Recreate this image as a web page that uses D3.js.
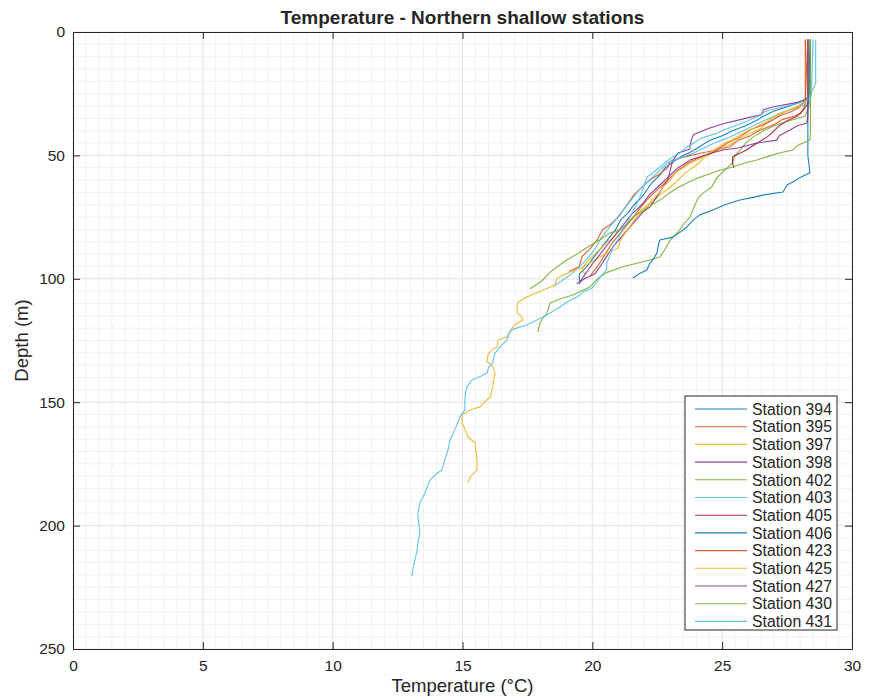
<!DOCTYPE html>
<html>
<head>
<meta charset="utf-8">
<script src="https://cdn.jsdelivr.net/npm/d3@7"></script>
<style>
  body { margin: 0; background: #fff; }
  svg text { font-family: "Liberation Sans", Arial, Helvetica, sans-serif; fill: #262626; }
</style>
</head>
<body>
<svg id="chart" width="869" height="700"></svg>
<script>
// CTD temperature profiles, each point is [depth (m), temperature (°C)]
const stationNames = ["Station 394", "Station 395", "Station 397", "Station 398", "Station 402",
  "Station 403", "Station 405", "Station 406", "Station 423", "Station 425", "Station 427",
  "Station 430", "Station 431"];

const st394 = [[3,28.4],[18,28.4],[26,28.35],[28,28.1],[30,27.6],[32,27.0],[34,26.6],[36,26.3],[38,25.9],[40,25.4],[42,25.0],[44,24.5],[46,24.2],[48,23.9],[50,23.5],[52,23.2],[55,22.8],[58,22.6],[61,22.3],[64,22.1],[67,21.9],[70,21.6],[73,21.4],[76,21.1],[80,20.9],[84,20.6],[88,20.3],[92,20.0],[95,19.8],[98,19.5],[101,19.5]];
const st395 = [[3,28.2],[15,28.25],[28,28.2],[31,28.15],[33,28.0],[34,27.8],[35.5,27.3],[37,27.1],[38,26.9],[40,26.4],[42,26.1],[44,25.6],[46.5,25.3],[48,24.7],[49,24.2],[50,23.8],[51,23.4],[52.5,23.0],[55,22.9],[57.5,22.6],[60,22.2],[61,22.1],[64,21.8],[66,21.6],[69,21.4],[72,21.2],[75,21.0],[78,20.7],[80,20.4],[84,20.2],[88,19.9],[91,19.6],[95,19.5],[97,19.1]];
const st397 = [[3,28.3],[16,28.3],[27,28.3],[29,28.1],[31,27.7],[33,27.3],[35,27.0],[37,26.7],[39,26.5],[41,26.1],[43,25.7],[45,25.4],[47,25.0],[49,24.6],[51,24.3],[54,24.0],[57,23.6],[60,23.3],[63,23.0],[66,22.6],[69,22.3],[72,21.9],[75,21.6],[78,21.3],[81,21.0],[84,20.7],[87,20.4],[90,20.1],[93,19.8],[96,19.6],[98,19.7]];
const st398 = [[3,28.3],[12,28.3],[20,28.35],[27,28.3],[28.5,27.9],[30.5,26.9],[31.5,26.6],[33.5,26.5],[35,25.9],[37,25.1],[39,24.5],[41.5,23.9],[44,23.8],[47.5,23.75],[49,23.3],[52,23.1],[56,23.0],[60,22.9],[63,22.7],[65,22.6],[68,22.4],[71,22.2],[73,21.95],[76,21.7],[79,21.45],[82,21.2],[84,21.05],[87,20.8],[91,20.55],[95,20.3],[98,20.1],[100,19.7],[102,19.4]];
const st402 = [[3,28.35],[18,28.35],[30,28.35],[34,28.2],[36,27.6],[38,27.0],[40,26.6],[42.5,26.2],[45,25.9],[47.8,25.7],[50,25.5],[53,25.4],[56,25.1],[59,24.8],[62.8,24.6],[65,24.3],[66.9,24.1],[70,23.95],[75,23.76],[78,23.5],[80.2,23.37],[84.3,23.0],[88,22.8],[91.2,22.6],[93,22.0],[95,21.2],[97.6,20.52],[100,20.2],[103.3,19.91],[106.6,19.25],[108,18.8],[109.8,18.37],[113.9,18.25],[116,18.1],[117.9,17.98],[121.6,17.9]];
const st403 = [[3,28.5],[20,28.45],[28,28.4],[30,28.1],[31.5,27.6],[33,27.2],[35,26.8],[37,26.4],[39,26.0],[41,25.6],[43,25.2],[45,24.7],[47,24.3],[49,23.9],[51,23.4],[53,22.9],[55,22.7],[58,22.4],[61,22.1],[64,21.8],[68,21.5],[72,21.2],[76,20.9],[80,20.6],[84,20.3],[88,20.1],[92,19.8],[95,19.5],[98,19.2],[101,18.8],[103,18.5]];
const st405 = [[3,28.3],[16,28.3],[29,28.3],[32,28.1],[34,27.9],[36,27.5],[38,27.2],[40,27.0],[42,26.8],[44,26.5],[46,26.2],[48,25.9],[50,25.5],[50.6,25.4],[53,25.4],[55,25.45]];
const st406 = [[3,28.4],[15,28.35],[30,28.3],[40,28.3],[50,28.3],[57,28.38],[59,28.0],[60.8,27.72],[62,27.5],[64.8,27.34],[66,26.6],[67,26.2],[68.1,25.68],[70,25.1],[72.1,24.64],[74.1,24.14],[76,23.9],[79,23.64],[81,23.4],[83.1,23.1],[84.3,22.6],[86,22.55],[89.5,22.49],[92,22.35],[94,22.2],[96.4,22.1],[98,21.8],[99.7,21.56]];
const st423 = [[3,28.2],[14,28.2],[27,28.2],[29,28.1],[31,27.9],[32.5,27.6],[34,27.2],[36,26.9],[38,26.5],[39.5,26.1],[41,25.9],[43,25.6],[45,25.2],[47,24.9],[49,24.6],[51,24.1],[53,23.7],[56,23.3],[60,22.9],[64,22.5],[68,22.1],[72,21.8],[76,21.5],[80,21.2],[85,20.8],[90,20.5],[95,20.2],[99,19.9]];
const st425 = [[3,28.3],[14,28.3],[26,28.3],[28,28.25],[30,28.0],[31.5,27.6],[33,27.2],[35,26.9],[37,26.6],[39,26.2],[41,25.8],[43,25.5],[45,25.1],[47,24.8],[49,24.5],[51,24.2],[53,23.8],[55,23.5],[57,23.2],[60,23.0],[63,22.7],[65,22.6],[68,22.3],[72,22.0],[75,21.7],[78,21.5],[81,21.3],[84,21.1],[87.5,20.99],[90,20.5],[93,20.0],[95.2,19.64],[97,19.2],[99.7,18.64],[102.5,18.56],[105,18.0],[107.4,17.48],[109.4,17.14],[111,17.1],[113.9,17.1],[115,17.25],[116.7,17.33],[118,17.1],[119.5,16.94],[121,16.85],[123.6,16.71],[124.8,16.37],[127.6,16.33],[129,16.1],[130.9,15.98],[133.7,15.94],[134.9,16.13],[136.5,16.2],[138.2,16.25],[141,16.2],[143.8,16.17],[147.9,16.06],[150,15.85],[151.9,15.67],[153.2,15.29],[155.2,14.98],[158.4,14.98],[161,15.1],[164.1,15.21],[166.5,15.48],[170,15.52],[173.4,15.56],[177.5,15.56],[180.3,15.29],[182.7,15.21]];
const st427 = [[3,28.3],[18,28.3],[30,28.3],[34,28.3],[36.9,28.26],[38,27.9],[39.7,27.61],[42,27.2],[43.8,27.1],[45,26.34],[47,25.6],[47.8,25.03],[49,24.6],[51.9,23.76],[55,23.3],[58,23.0],[62,22.6],[66,22.2],[70,21.9],[74,21.5],[78,21.2],[82,20.9],[86,20.6],[90,20.3],[94,20.0],[97,19.8],[100,19.6],[102,19.5]];
const st430 = [[3,28.4],[20,28.4],[35,28.4],[40,28.4],[43.8,28.38],[46,27.9],[47.8,27.72],[49,27.2],[50.6,26.72],[52,26.3],[53,25.9],[54.7,25.41],[56,24.9],[57.5,24.5],[59,24.1],[61.2,23.64],[63,23.3],[65,23.0],[68.1,22.6],[70,22.3],[72,22.0],[75,21.56],[77,21.4],[80.2,21.06],[81.4,20.68],[84.3,20.29],[86,20.0],[88.3,19.64],[90,19.4],[92.4,19.02],[94,18.8],[96.4,18.48],[98,18.3],[100.5,18.1],[102,17.9],[104,17.6]];
const st431 = [[3,28.6],[12,28.6],[21,28.6],[24,28.45],[27,28.4],[29,27.9],[30.5,27.3],[32,26.7],[34,26.4],[36,26.0],[38,25.5],[40,25.0],[41,24.8],[43,24.2],[45,23.9],[46.6,23.64],[49,23.37],[50.6,23.1],[53,22.8],[54.7,22.6],[56,22.45],[58.8,22.1],[62,22.0],[66.9,21.83],[70,21.7],[74,21.5],[77.4,21.33],[81,21.1],[84,21.0],[87.1,20.79],[90,20.7],[93.6,20.56],[96.4,20.55],[99.3,20.3],[101,20.2],[103.7,20.0],[105,19.7],[107.4,19.41],[109,19.1],[111.4,18.75],[113,18.5],[114.7,18.25],[116,18.0],[117.5,17.71],[119,17.4],[119.5,17.21],[120.7,16.9],[122,16.8],[124.8,16.71],[126,16.6],[127.6,16.44],[130.1,16.25],[132,16.2],[134.1,16.17],[136,16.0],[138.2,15.94],[139.5,15.7],[141,15.36],[143.8,15.17],[146,15.12],[149.1,15.09],[153.2,15.09],[155,14.95],[156.5,14.88],[160,14.75],[165.3,14.52],[169,14.45],[173.4,14.32],[177.5,14.2],[179,14.0],[181.5,13.75],[184,13.65],[187,13.55],[190.8,13.36],[194.9,13.28],[198,13.3],[203,13.36],[206,13.3],[210,13.25],[213.9,13.17],[217,13.1],[220.5,13.05]];

const profiles = [st394, st395, st397, st398, st402, st403, st405, st406, st423, st425, st427, st430, st431];

const xTicks = [0, 5, 10, 15, 20, 25, 30];
const yTicks = [0, 50, 100, 150, 200, 250];

// MATLAB-style line colour order
const lineColors = ["#0072BD", "#D95319", "#EDB120", "#7E2F8E", "#77AC30", "#4DBEEE", "#A2142F"];

const svg = d3.select("#chart");
const plotL = 73, plotR = 852, plotT = 32, plotB = 649;

const x = d3.scaleLinear().domain([0, 30]).range([plotL, plotR]);
const y = d3.scaleLinear().domain([0, 250]).range([plotT, plotB]);

// grid: faint minor lines, slightly stronger at the major ticks
const grid = svg.append("g");
grid.selectAll(".vminor").data(d3.range(0.5, 30, 0.5)).join("line")
  .attr("x1", d => x(d)).attr("x2", d => x(d)).attr("y1", plotT).attr("y2", plotB)
  .attr("stroke", "#f1f1f1").attr("stroke-width", 1);
grid.selectAll(".hminor").data(d3.range(5, 250, 5)).join("line")
  .attr("y1", d => y(d)).attr("y2", d => y(d)).attr("x1", plotL).attr("x2", plotR)
  .attr("stroke", "#f1f1f1").attr("stroke-width", 1);
grid.selectAll(".vmajor").data(xTicks).join("line")
  .attr("x1", d => x(d)).attr("x2", d => x(d)).attr("y1", plotT).attr("y2", plotB)
  .attr("stroke", "#e6e6e6").attr("stroke-width", 1);
grid.selectAll(".hmajor").data(yTicks).join("line")
  .attr("y1", d => y(d)).attr("y2", d => y(d)).attr("x1", plotL).attr("x2", plotR)
  .attr("stroke", "#e6e6e6").attr("stroke-width", 1);

// profiles
const line = d3.line().x(d => x(d[1])).y(d => y(d[0]));
svg.append("g").selectAll("path").data(profiles).join("path")
  .attr("d", line)
  .attr("fill", "none")
  .attr("stroke", (d, i) => lineColors[i % lineColors.length])
  .attr("stroke-opacity", 0.9)
  .attr("stroke-width", 1.1)
  .attr("stroke-linejoin", "round");

// axes (ticks point inward, box on all four sides)
const tickLen = 7;
const styleAxis = g => {
  g.selectAll("path").attr("stroke", "#262626");
  g.selectAll("line").attr("stroke", "#262626");
  g.selectAll("text").style("font-size", "15.5px").attr("fill", "#262626");
};
svg.append("g").attr("transform", `translate(0,${plotB})`)
  .call(d3.axisBottom(x).tickValues(xTicks).tickSizeInner(-tickLen).tickSizeOuter(0).tickPadding(11))
  .call(styleAxis);
svg.append("g").attr("transform", `translate(0,${plotT})`)
  .call(d3.axisTop(x).tickValues(xTicks).tickSizeInner(-tickLen).tickSizeOuter(0).tickFormat(""))
  .call(styleAxis);
svg.append("g").attr("transform", `translate(${plotL},0)`)
  .call(d3.axisLeft(y).tickValues(yTicks).tickSizeInner(-tickLen).tickSizeOuter(0).tickPadding(8))
  .call(styleAxis);
svg.append("g").attr("transform", `translate(${plotR},0)`)
  .call(d3.axisRight(y).tickValues(yTicks).tickSizeInner(-tickLen).tickSizeOuter(0).tickFormat(""))
  .call(styleAxis);

svg.selectAll(".domain").attr("stroke-width", 1);

// titles
svg.append("text").attr("x", (plotL + plotR) / 2).attr("y", 24)
  .attr("text-anchor", "middle").style("font-size", "19px").style("font-weight", "bold")
  .attr("fill", "#000").text("Temperature - Northern shallow stations");
svg.append("text").attr("x", (plotL + plotR) / 2).attr("y", 692)
  .attr("text-anchor", "middle").style("font-size", "18.5px")
  .text("Temperature (°C)");
svg.append("text").attr("transform", `translate(28,${(plotT + plotB) / 2}) rotate(-90)`)
  .attr("text-anchor", "middle").style("font-size", "18.5px")
  .text("Depth (m)");

// legend
const lg = svg.append("g");
const lgX = 685, lgY = 396, lgW = 152, lgH = 234, rowH = 17.7, firstRow = 409;
lg.append("rect").attr("x", lgX).attr("y", lgY).attr("width", lgW).attr("height", lgH)
  .attr("fill", "#fff").attr("stroke", "#262626").attr("stroke-width", 1);
const rows = lg.selectAll("g.row").data(stationNames).join("g")
  .attr("transform", (d, i) => `translate(0,${firstRow + i * rowH})`);
rows.append("line").attr("x1", 695).attr("x2", 747).attr("y1", 0).attr("y2", 0)
  .attr("stroke", (d, i) => lineColors[i % lineColors.length])
  .attr("stroke-opacity", 0.9).attr("stroke-width", 1.1);
rows.append("text").attr("x", 752).attr("y", 0).attr("dy", "0.36em")
  .style("font-size", "15.8px").attr("fill", "#000").text(d => d);
</script>
</body>
</html>
